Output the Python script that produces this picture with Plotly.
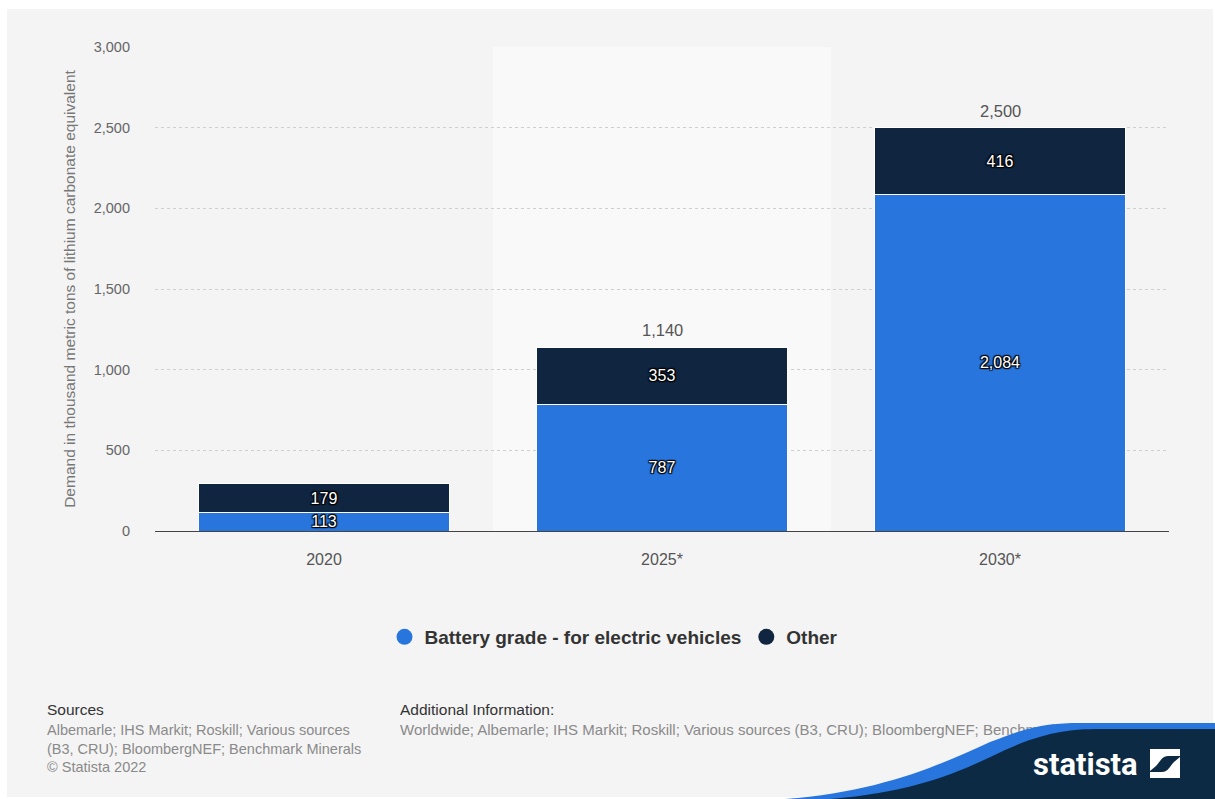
import plotly.graph_objects as go

# Lithium demand by use, thousand metric tons of LCE
years = ["2020", "2025*", "2030*"]
battery_grade = [113, 787, 2084]
other = [179, 353, 416]
totals = [b + o for b, o in zip(battery_grade, other)]

y_ticks = [0, 500, 1000, 1500, 2000, 2500, 3000]
y_tick_text = ["0", "500", "1,000", "1,500", "2,000", "2,500", "3,000"]

# footer copy
foot_text = [
    "Sources",
    "Albemarle; IHS Markit; Roskill; Various sources",
    "(B3, CRU); BloombergNEF; Benchmark Minerals",
    "© Statista 2022",
    "Additional Information:",
    "Worldwide; Albemarle; IHS Markit; Roskill; Various sources (B3, CRU); "
    "BloombergNEF; Benchmark Minerals",
]

BLUE = "#2876dd"
NAVY = "#0f2540"
BG = "#f4f4f4"
FONT = "Liberation Sans, Arial, sans-serif"

W, H = 1215, 799
# chart frame in page pixels
X0, X1, YTOP, YBOT = 155, 1169, 47, 531


def px(x):
    return x / W


def py(y):
    return 1 - y / H


def fmt(v):
    return f"{v:,}"


shadow = ("1px 1px 1px #000, -1px -1px 1px #000, 1px -1px 1px #000, "
          "-1px 1px 1px #000, 0 0 2px #000")

fig = go.Figure()
fig.add_bar(
    x=years, y=battery_grade, name="Battery grade - for electric vehicles",
    marker=dict(color=BLUE, line=dict(color="#ffffff", width=1)),
    text=[fmt(v) for v in battery_grade], textposition="inside",
    insidetextanchor="middle",
    textfont=dict(color="white", size=16, family=FONT, shadow=shadow),
    showlegend=False, hoverinfo="skip",
)
fig.add_bar(
    x=years, y=other, name="Other",
    marker=dict(color=NAVY, line=dict(color="#ffffff", width=1)),
    text=[fmt(v) for v in other], textposition="inside",
    insidetextanchor="middle",
    textfont=dict(color="white", size=16, family=FONT, shadow=shadow),
    showlegend=False, hoverinfo="skip",
)
# circular legend markers
for name, col in [("Battery grade - for electric vehicles", BLUE), ("Other", NAVY)]:
    fig.add_scatter(x=[None], y=[None], mode="markers", name=name,
                    marker=dict(color=col, size=18, symbol="circle"))

# footer text on a full-page pixel overlay, so the brand wave can cover it
fig.add_scatter(
    x=[47, 47, 47, 47, 400, 400],
    y=[711.5, 731.5, 750, 768.5, 711.5, 731.5],
    text=foot_text, mode="text", textposition="middle right",
    textfont=dict(family=FONT, size=[15.5, 14.5, 14.5, 14.5, 15.5, 15],
                  color=["#333333", "#8a8a8a", "#8a8a8a", "#8a8a8a",
                         "#333333", "#8a8a8a"]),
    xaxis="x2", yaxis="y2", showlegend=False, hoverinfo="skip",
    cliponaxis=False,
)

# totals above each stack
annotations = []
for yr, t in zip(years, totals):
    annotations.append(dict(x=yr, y=t, xref="x", yref="y", text=fmt(t),
                            showarrow=False, yshift=17, yanchor="middle",
                            font=dict(size=16.5, color="#555555", family=FONT)))

annotations.append(dict(x=px(1085), y=py(764), xref="paper", yref="paper",
                        text="<b>statista</b>", showarrow=False,
                        xanchor="center", yanchor="middle",
                        font=dict(size=31, color="white",
                                  family="Roboto, Liberation Sans, sans-serif")))


def path(points_cmds):
    out = []
    for cmd, pts in points_cmds:
        coords = " ".join(f"{px(a):.5f},{py(b):.5f}" for a, b in pts)
        out.append(f"{cmd}{coords}")
    return " ".join(out) + " Z"


shapes = [
    # card background
    dict(type="rect", xref="paper", yref="paper", x0=px(7), x1=px(1213),
         y0=py(9), y1=py(797), fillcolor=BG, line=dict(width=0), layer="below"),
    # highlighted forecast column
    dict(type="rect", xref="x", yref="y", x0=0.5, x1=1.5, y0=0, y1=3000,
         fillcolor="#f9f9f9", line=dict(width=0), layer="below"),
    # brand wave
    dict(type="path", xref="paper", yref="paper", layer="above",
         fillcolor=BLUE, line=dict(width=0),
         path=path([("M", [(785, 799)]),
                    ("C", [(880, 792), (940, 765), (990, 742)]),
                    ("C", [(1030, 726), (1050, 723), (1080, 723)]),
                    ("L", [(1215, 723)]), ("L", [(1215, 799)])])),
    dict(type="path", xref="paper", yref="paper", layer="above",
         fillcolor="#0d2a44", line=dict(width=0),
         path=path([("M", [(830, 799)]),
                    ("C", [(920, 792), (965, 769), (1005, 750)]),
                    ("C", [(1045, 732), (1070, 729), (1100, 729)]),
                    ("L", [(1215, 729)]), ("L", [(1215, 799)])])),
    # brand icon
    dict(type="path", xref="paper", yref="paper", layer="above",
         fillcolor="white", line=dict(width=0),
         path=path([("M", [(1150, 749)]), ("L", [(1180, 749)]),
                    ("L", [(1180, 756)]), ("L", [(1168, 756)]),
                    ("C", [(1162, 756), (1160, 762), (1156, 766)]),
                    ("L", [(1150, 771)])])),
    dict(type="path", xref="paper", yref="paper", layer="above",
         fillcolor="white", line=dict(width=0),
         path=path([("M", [(1180, 778)]), ("L", [(1150, 778)]),
                    ("L", [(1150, 772)]), ("L", [(1162, 772)]),
                    ("C", [(1168, 772), (1170, 766), (1174, 762)]),
                    ("L", [(1180, 757)])])),
]

fig.update_layout(
    width=W, height=H, autosize=False,
    margin=dict(l=0, r=0, t=0, b=0, autoexpand=False),
    paper_bgcolor="white", plot_bgcolor="rgba(0,0,0,0)",
    barmode="stack", bargap=0.255,
    font=dict(family=FONT, color="#666666"),
    uniformtext=dict(mode="show", minsize=16),
    showlegend=True,
    legend=dict(orientation="h", x=px(614), y=py(637), xanchor="center",
                yanchor="middle", bgcolor="rgba(0,0,0,0)",
                font=dict(size=19, color="#333333",
                          family="Liberation Sans, Arial, sans-serif",
                          weight="bold"),
                itemwidth=30, traceorder="normal"),
    annotations=annotations,
    shapes=shapes,
    xaxis=dict(domain=[px(X0), px(X1)], anchor="y",
               type="category", categoryorder="array", categoryarray=years,
               range=[-0.5, 2.5],
               showgrid=False, showline=True, linecolor="#444444", linewidth=1,
               ticks="", tickfont=dict(size=16, color="#555555"),
               ticklabelstandoff=14, fixedrange=True),
    yaxis=dict(domain=[py(YBOT), py(YTOP)], anchor="x",
               range=[0, 3000], tickvals=y_ticks, ticktext=y_tick_text,
               showgrid=True, gridcolor="#cfcfcf", griddash="dot", gridwidth=1,
               zeroline=False, showline=False, ticks="",
               tickfont=dict(size=14.5, color="#666666"),
               ticklabelstandoff=24,
               title=dict(text="Demand in thousand metric tons of lithium carbonate equivalent",
                          font=dict(size=15.5, color="#777777"), standoff=14),
               fixedrange=True),
    xaxis2=dict(domain=[0, 1], range=[0, W], anchor="y2", visible=False,
                fixedrange=True),
    yaxis2=dict(domain=[0, 1], range=[H, 0], anchor="x2", visible=False,
                fixedrange=True),
)

fig.write_html("out.html")
